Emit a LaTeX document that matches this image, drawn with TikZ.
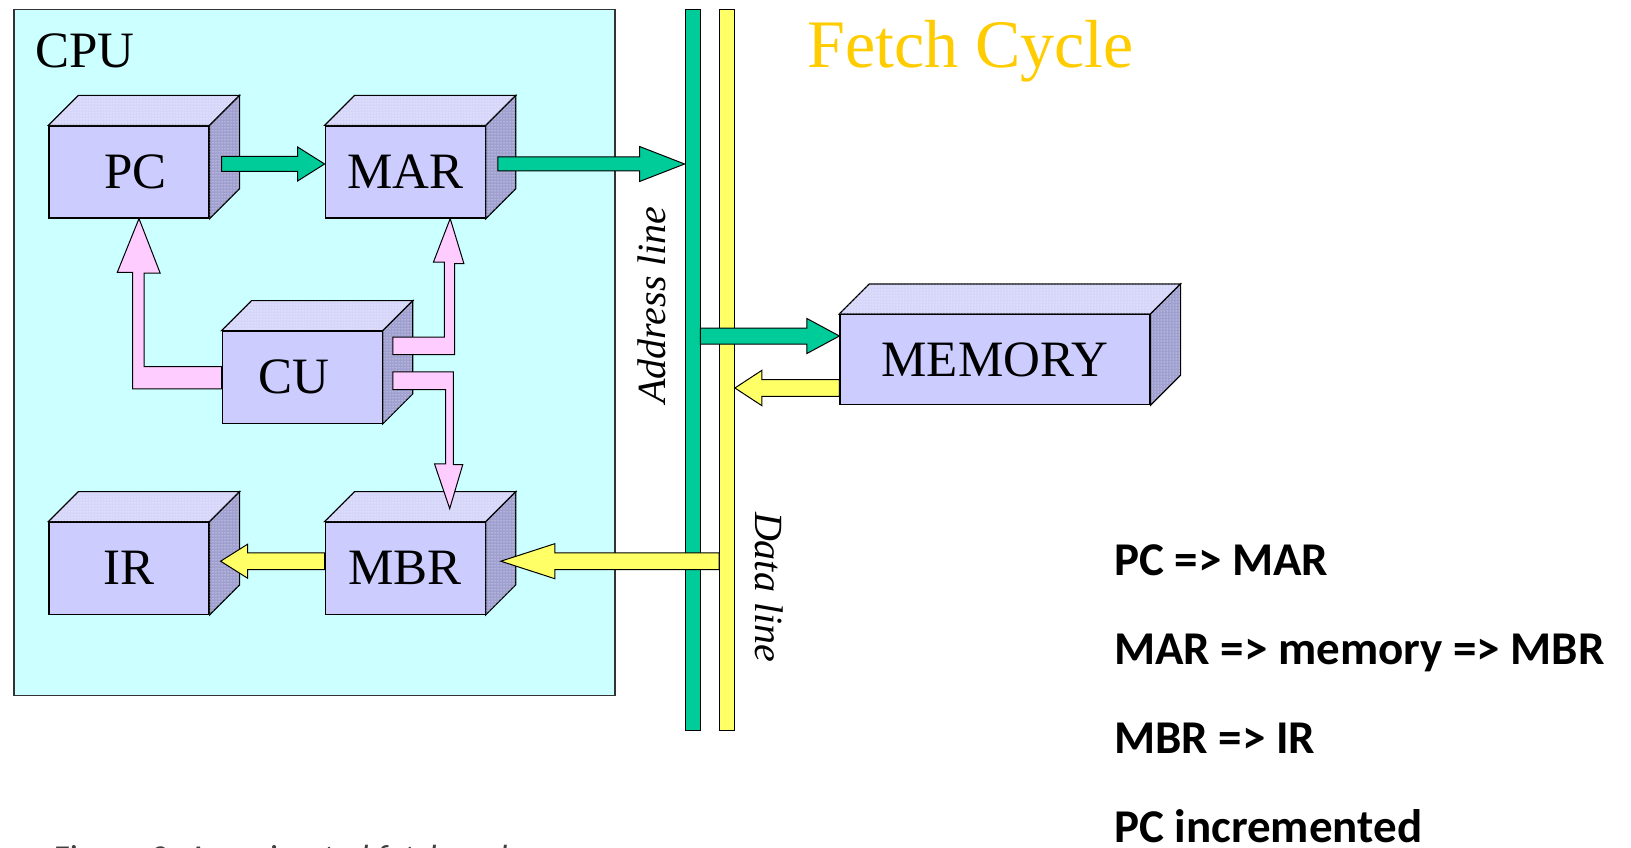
\documentclass[tikz,border=0pt]{standalone}
\usepackage{fontspec}
\usepackage{tikz}
\usetikzlibrary{calc,positioning,patterns}
\setmainfont{Liberation Serif}
\newfontfamily\notefont{Carlito}

\definecolor{cpubg}{RGB}{204,255,255}
\definecolor{unitfront}{RGB}{204,204,255}
\definecolor{unittop}{RGB}{214,214,250}
\definecolor{unitside}{RGB}{160,160,208}
\definecolor{addrgreen}{RGB}{0,204,153}
\definecolor{datayellow}{RGB}{255,255,102}
\definecolor{ctrlpink}{RGB}{255,204,255}
\definecolor{fetchgold}{RGB}{255,204,0}

\newcommand{\blockarrow}[6][]{%
  \coordinate (ba-h) at ($(#3)!#6!(#2)$);
  \draw[#1] ($(#2)!#4!90:(#3)$) -- ($(ba-h)!#4!-90:(#2)$) -- ($(ba-h)!#5!-90:(#2)$)
    -- (#3) -- ($(ba-h)!#5!90:(#2)$) -- ($(ba-h)!#4!90:(#2)$) -- ($(#2)!#4!-90:(#3)$) -- cycle;}

\begin{document}
\begin{tikzpicture}[
    x=1pt, y=-1pt,
    node distance=115pt,
    unit/.style={draw, line width=1.2pt, fill=unitfront, minimum width=160pt, minimum height=92pt, inner sep=0pt, font=\fontsize{51}{51}\selectfont},
    topface/.style={draw, line width=1.2pt, fill=unittop, postaction={pattern=dots, pattern color=white}},
    sideface/.style={draw, line width=1.2pt, fill=unitside, postaction={pattern=dots, pattern color=white}},
    bus/.style={draw, line width=0.8pt, minimum width=15pt, minimum height=721pt, inner sep=0pt},
    garrow/.style={draw, line width=1pt, fill=addrgreen},
    yarrow/.style={draw, line width=1pt, fill=datayellow},
    parrow/.style={draw, line width=1pt, fill=ctrlpink},
    busname/.style={font=\itshape\fontsize{40}{40}\selectfont, inner sep=0pt},
    noteline/.style={font=\notefont\bfseries\fontsize{47}{47}\selectfont, anchor=base west, inner sep=0pt}
]
\useasboundingbox (0,0) rectangle (1631,848);

\node[draw=black!80, line width=1.5pt, fill=cpubg, minimum width=601pt, minimum height=686pt, inner sep=0pt] (cpu) at (314.3,352.7) {};
\node[font=\fontsize{51}{51}\selectfont, anchor=base west, inner sep=0pt] (cpulabel) at (35,68) {CPU};

\node[unit] (PC) at (129,172) {\hspace*{13pt}PC};
\node[unit, right=of PC] (MAR) {MAR};
\node[unit, below=303pt of PC] (IR) {IR};
\node[unit, right=of IR] (MBR) {MBR};
\node[unit, below right=112pt and 12pt of PC] (CU) {CU\hspace*{16pt}};
\node[unit, minimum width=310pt, minimum height=90pt] (MEM) at (995,359.5) {MEMORY};

\foreach \u in {PC,MAR,CU,IR,MBR,MEM} {
  \draw[topface] (\u.north west) -- ++(30,-30) -- ([shift={(30pt,30pt)}]\u.north east) -- (\u.north east) -- cycle;
  \draw[sideface] (\u.north east) -- ++(30,-30) -- ([shift={(30pt,30pt)}]\u.south east) -- (\u.south east) -- cycle;
}

\node[bus, fill=addrgreen] (abus) at (692.5,369.5) {};
\node[bus, fill=datayellow] (dbus) at (727,369.5) {};

\coordinate (marout) at ([xshift=12pt,yshift=8pt]MAR.east);
\coordinate (memin) at ([yshift=23.5pt]MEM.west);
\coordinate (memout) at ([yshift=-28.5pt]MEM.west);
\coordinate (mbrin) at ([xshift=15pt,yshift=7pt]MBR.east);

\blockarrow[garrow]{[xshift=12pt,yshift=8pt]PC.east}{[yshift=8pt]MAR.west}{7.5pt}{17pt}{27pt}
\blockarrow[garrow]{marout}{marout -| abus.west}{7pt}{17.5pt}{45pt}
\blockarrow[garrow]{memin -| abus.east}{memin}{8pt}{17.5pt}{32.5pt}
\blockarrow[yarrow]{memout}{memout -| dbus.east}{8.3pt}{17.7pt}{27pt}
\blockarrow[yarrow]{mbrin -| dbus.west}{mbrin}{8.3pt}{17.5pt}{54pt}
\blockarrow[yarrow]{[yshift=7pt]MBR.west}{[xshift=11pt,yshift=7pt]IR.east}{8.3pt}{17pt}{27pt}

\draw[parrow] ([yshift=10.7pt]CU.west) -| ++(-77.4,-93.3) -- ++(16,0) -- ([xshift=10pt]PC.south) -- ++(-21.7,53.7) -- ++(15.4,0) |- ([yshift=-11.6pt]CU.west) -- cycle;
\draw[parrow] ([xshift=10pt,yshift=40pt]CU.east) -| ++(51.6,-75) -- ++(-11,0) -- ([xshift=45pt]MAR.south) -- ++(13.7,45) -- ++(-9.4,0) |- ([xshift=10pt,yshift=22.7pt]CU.east) -- cycle;
\draw[parrow] ([xshift=10pt,yshift=5.3pt]CU.east) -| ++(60.6,92.6) -- ++(9.4,0) -- ([xshift=44.5pt,yshift=13pt]MBR.north) -- ++(-15.2,-44.7) -- ++(11,0) |- ([xshift=10pt,yshift=-12.3pt]CU.east) -- cycle;

\node[busname, rotate=90] (addrname) at (652,305) {Address line};
\node[busname, rotate=-90] (dataname) at (769,587) {Data line};
\node[font=\fontsize{68}{68}\selectfont, text=fetchgold, anchor=base west, inner sep=0pt] (title) at (807,68) {Fetch Cycle};

\foreach \t [count=\i] in {PC => MAR, MAR => memory => MBR, MBR => IR, PC incremented}
  \node[noteline] (note\i) at (1114,575+89.3*\i-89.3) {\t};

\node[font=\notefont\itshape\fontsize{35}{35}\selectfont, text=black!75, anchor=base west, inner sep=0pt] (caption) at (52,869) {Figure 3: An animated fetch cycle};
\end{tikzpicture}
\end{document}
